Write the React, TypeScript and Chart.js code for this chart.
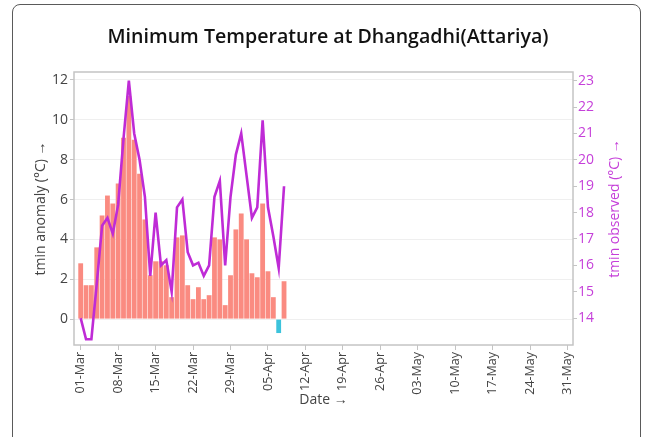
import React, { useEffect, useRef } from 'react';
import { Chart, registerables } from 'chart.js';

Chart.register(...registerables);

const chartTitle = 'Minimum Temperature at Dhangadhi(Attariya)';
const leftTitle = 'tmin anomaly (°C) →';
const rightTitle = 'tmin observed (°C) →';
const xTitle = 'Date →';

// day offsets from 01-Mar
const dayOffsets = [
  0, 1, 2, 3, 4, 5, 6, 7, 8, 9, 10, 11, 12, 13, 14, 15, 16, 17, 18, 19,
  20, 21, 22, 23, 24, 25, 26, 27, 28, 29, 30, 31, 32, 33, 34, 35, 36, 37, 38,
];
const anomaly = [
  2.8, 1.7, 1.7, 3.6, 5.2, 6.2, 5.8, 6.8, 9.1, 11.2,
  9.0, 7.3, 5.0, 2.2, 2.9, 2.9, 2.7, 1.1, 4.1, 4.2,
  1.7, 1.0, 1.6, 1.0, 1.2, 4.1, 4.0, 0.7, 2.2, 4.5,
  5.3, 4.0, 2.3, 2.1, 5.8, 2.4, 1.1, -0.7, 1.9,
];
const observed = [
  14.0, 13.2, 13.2, 15.3, 17.5, 17.8, 17.2, 18.3, 20.8, 23.0,
  21.0, 20.0, 18.6, 15.6, 18.0, 16.0, 16.2, 15.0, 18.2, 18.5,
  16.5, 16.0, 16.1, 15.6, 16.0, 18.6, 19.2, 16.0, 18.6, 20.2,
  21.0, 19.4, 17.8, 18.2, 21.5, 18.2, 17.1, 15.9, 19.0,
];
const tickDays = [0, 7, 14, 21, 28, 35, 42, 49, 56, 63, 70, 77, 84, 91];
const tickLabels = [
  '01-Mar', '08-Mar', '15-Mar', '22-Mar', '29-Mar', '05-Apr', '12-Apr',
  '19-Apr', '26-Apr', '03-May', '10-May', '17-May', '24-May', '31-May',
];
const anomalyTicks = [0, 2, 4, 6, 8, 10, 12];
const observedTicks = [14, 15, 16, 17, 18, 19, 20, 21, 22, 23];

const FONT = '"Open Sans", "Noto Sans", sans-serif';
const POS = '#FA8B81';
const NEG = '#3CC3DC';
const LINE = '#BF2BD6';
const RIGHT_TXT = '#C53FD9';
const AXIS_TXT = '#444444';

export default function App() {
  const ref = useRef<HTMLCanvasElement | null>(null);

  useEffect(() => {
    const canvas = ref.current;
    if (!canvas) return;

    const decor = {
      id: 'decor',
      beforeDatasetsDraw(chart: any) {
        const { ctx, chartArea: a } = chart;
        ctx.save();
        ctx.strokeStyle = '#c4c4c4';
        ctx.lineWidth = 1.5;
        ctx.strokeRect(a.left, a.top, a.right - a.left, a.bottom - a.top);
        ctx.restore();
      },
      afterDraw(chart: any) {
        const { ctx, chartArea: a } = chart;
        const cy = (a.top + a.bottom) / 2;
        const cx = (a.left + a.right) / 2;
        ctx.save();
        ctx.textAlign = 'center';
        ctx.textBaseline = 'middle';
        ctx.fillStyle = '#111111';
        ctx.font = `600 19.6px ${FONT}`;
        ctx.fillText(chartTitle, 328, 37);

        ctx.font = `14px ${FONT}`;
        ctx.fillStyle = AXIS_TXT;
        ctx.fillText(xTitle, cx, 400);

        ctx.save();
        ctx.translate(41, cy);
        ctx.rotate(-Math.PI / 2);
        ctx.fillText(leftTitle, 0, 0);
        ctx.restore();

        ctx.save();
        ctx.fillStyle = RIGHT_TXT;
        ctx.translate(615, cy);
        ctx.rotate(-Math.PI / 2);
        ctx.fillText(rightTitle, 0, 0);
        ctx.restore();

        ctx.restore();
      },
    };

    const chart = new Chart(canvas, {
      type: 'bar',
      data: {
        datasets: [
          {
            type: 'line',
            label: 'tmin observed',
            data: dayOffsets.map((d, i) => ({ x: d, y: observed[i] })),
            yAxisID: 'y1',
            borderColor: LINE,
            borderWidth: 2.6,
            pointRadius: 0,
            tension: 0,
            order: 0,
          } as any,
          {
            type: 'bar',
            label: 'tmin anomaly',
            data: dayOffsets.map((d, i) => ({ x: d, y: anomaly[i] })),
            yAxisID: 'y',
            backgroundColor: anomaly.map((v) => (v < 0 ? NEG : POS)),
            borderWidth: 0,
            barPercentage: 0.9,
            categoryPercentage: 1,
            order: 1,
          } as any,
        ],
      },
      options: {
        responsive: false,
        animation: false,
        devicePixelRatio: 1,
        layout: { padding: { top: 72, left: 0, right: 0, bottom: 0 } },
        plugins: {
          legend: { display: false },
          title: { display: false },
          tooltip: { enabled: false },
        },
        scales: {
          x: {
            type: 'linear',
            min: -1.25,
            max: 92,
            offset: false,
            grid: {
              display: true,
              offset: false,
              drawOnChartArea: false,
              drawTicks: true,
              tickLength: 5,
              tickColor: '#c4c4c4',
            },
            border: { display: false },
            afterBuildTicks: (s: any) => {
              s.ticks = tickDays.map((v) => ({ value: v }));
            },
            afterFit: (s: any) => {
              s.height = 92;
            },
            ticks: {
              autoSkip: false,
              maxRotation: 90,
              minRotation: 90,
              padding: 2,
              color: AXIS_TXT,
              font: { family: FONT, size: 12.5 },
              callback: (v: any) => {
                const idx = tickDays.indexOf(Number(v));
                return idx >= 0 ? tickLabels[idx] : '';
              },
            },
          },
          y: {
            type: 'linear',
            position: 'left',
            min: -1.3,
            max: 12.4,
            grid: {
              color: '#efefef',
              tickColor: '#c4c4c4',
              tickLength: 4,
            },
            border: { display: false },
            afterBuildTicks: (s: any) => {
              s.ticks = anomalyTicks.map((v) => ({ value: v }));
            },
            afterFit: (s: any) => {
              s.width = 74;
            },
            ticks: {
              padding: 2,
              color: AXIS_TXT,
              font: { family: FONT, size: 14 },
            },
          },
          y1: {
            type: 'linear',
            position: 'right',
            min: 12.98,
            max: 23.33,
            grid: {
              drawOnChartArea: false,
              tickColor: '#c4c4c4',
              tickLength: 4,
            },
            border: { display: false },
            afterBuildTicks: (s: any) => {
              s.ticks = observedTicks.map((v) => ({ value: v }));
            },
            afterFit: (s: any) => {
              s.width = 73;
            },
            ticks: {
              padding: 1,
              color: RIGHT_TXT,
              font: { family: FONT, size: 14 },
            },
          },
        },
      } as any,
      plugins: [decor],
    });

    return () => chart.destroy();
  }, []);

  return (
    <div style={{ position: 'fixed', left: 0, top: 0, width: 646, height: 437, overflow: 'hidden', background: '#fff' }}>
      <div
        style={{
          position: 'absolute',
          left: 12,
          top: 4,
          width: 629,
          height: 520,
          border: '1px solid #5a5a5a',
          borderRadius: 8,
          boxSizing: 'border-box',
        }}
      />
      <canvas ref={ref} width={646} height={437} style={{ position: 'absolute', left: 0, top: 0, width: 646, height: 437 }} />
    </div>
  );
}
